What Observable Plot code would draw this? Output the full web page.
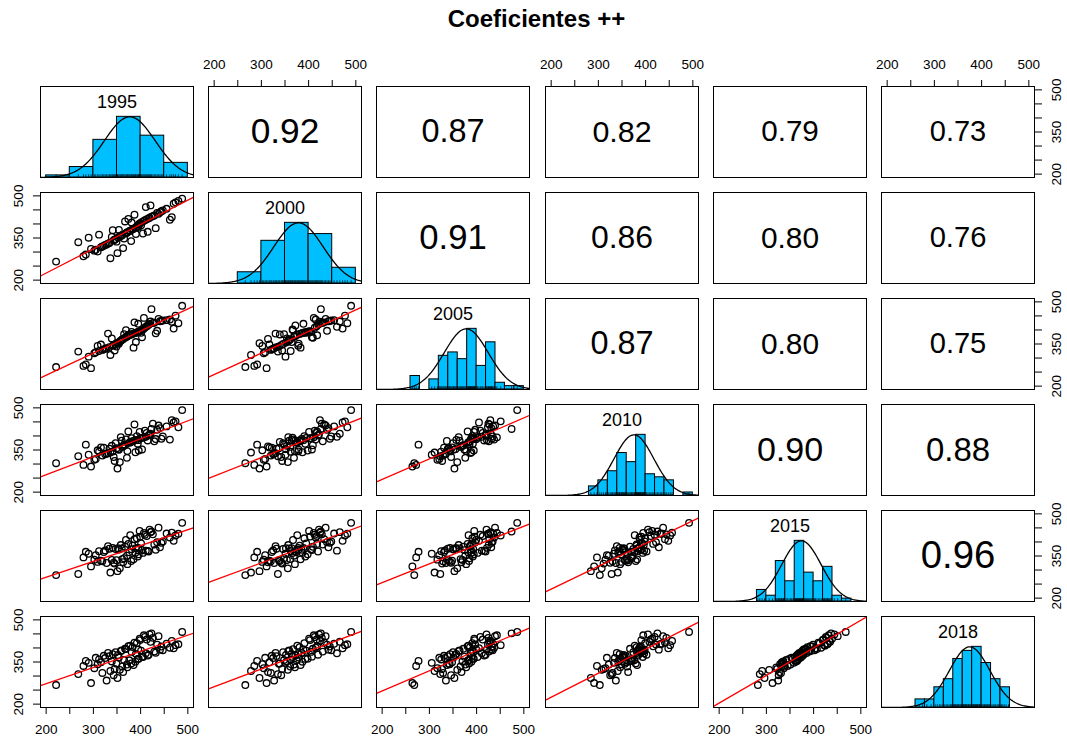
<!DOCTYPE html>
<html>
<head>
<meta charset="utf-8">
<script src="https://cdn.jsdelivr.net/npm/d3@7"></script>
<script src="https://cdn.jsdelivr.net/npm/@observablehq/plot@0.6"></script>
<style>
  html, body { margin: 0; padding: 0; background: #fff; }
  #chart { position: relative; width: 1067px; height: 742px; font-family: "Liberation Sans", Arial, Helvetica, sans-serif; }
  #title { position: absolute; left: 3px; top: 5px; width: 1067px; text-align: center; font-weight: bold; font-size: 24px; color: #000; }
  .cell { position: absolute; }
</style>
</head>
<body>
<div id="chart"><div id="title">Coeficientes ++</div></div>
<script>
// Variables (one per year) and their observations
const years = ["1995", "2000", "2005", "2010", "2015", "2018"];

const y1995 = [221,295,328,351,343,268,319,363,336,356, 345,302,372,361,279,385,371,309,349,380,
               290,316,389,339,284,376,365,312,394,396, 325,305,354,405,403,334,322,415,352,417,
               341,390,411,331,432,347,381,429,358,401, 360,447,441,395,369,367,470,462,383,444,
               374,378,474,435,480,455,392,387,421,466, 399,413,398,426,409,438,407,419,423,488];
const y2000 = [266,311,327,296,342,335,320,314,278,356, 344,305,371,361,285,383,369,302,337,339,
               351,317,387,354,291,374,348,362,393,398, 325,308,379,366,407,332,322,372,352,420,
               378,364,460,330,385,346,405,430,357,395, 359,448,442,389,367,409,472,415,381,445,
               418,376,477,439,482,454,391,433,466,424, 403,417,401,428,413,436,411,422,426,490];
const y2005 = [268,264,335,353,346,323,329,368,311,359, 327,317,378,366,272,337,376,343,341,384,
               305,348,389,370,277,382,385,325,392,394, 333,321,351,402,374,339,331,416,355,419,
               344,357,411,387,388,350,393,426,362,390, 364,434,431,422,399,372,405,437,386,432,
               381,383,451,397,424,435,391,427,430,429, 396,413,395,425,408,439,443,421,474,486];
const y2010 = [303,291,337,284,325,328,330,363,341,307, 311,315,346,361,297,382,322,349,356,379,
               333,359,342,365,369,376,370,344,372,348, 335,318,351,394,352,355,358,384,353,402,
               345,386,397,339,389,374,392,381,396,393, 383,398,428,385,388,367,448,387,381,390,
               416,377,452,422,431,434,399,441,408,456, 391,411,414,444,419,437,395,405,425,492];
const y2015 = [282,313,325,296,326,286,331,328,291,306, 323,337,321,339,345,338,351,329,335,332,
               358,333,362,336,365,363,342,367,348,356, 370,353,373,361,371,376,364,368,378,366,
               379,378,369,385,372,375,374,391,389,395, 377,402,381,379,407,383,404,416,387,397,
               393,424,423,399,429,430,413,410,435,433, 419,421,439,427,426,451,432,444,437,468];
const y2018 = [268,275,284,293,303,307,311,314,318,322, 325,328,331,334,336,339,341,342,344,345,
               347,349,351,352,354,356,357,359,361,362, 364,365,366,368,369,371,372,373,375,376,
               378,379,381,382,383,385,386,387,389,390, 391,392,394,395,396,397,399,401,403,405,
               406,408,410,412,413,415,417,419,422,425, 428,430,433,436,439,442,445,448,452,457];

// Pearson coefficients of the upper panels, row by row
const correlations = [0.92, 0.87, 0.82, 0.79, 0.73,
                      0.91, 0.86, 0.80, 0.76,
                      0.87, 0.80, 0.75,
                      0.90, 0.88,
                      0.96];

// Histogram class widths per variable
const binWidths = [50, 50, 20, 20, 20, 20];

// Axis ticks and the ones that carry a label
const axisTicks = [200, 250, 300, 350, 400, 450, 500];
const xTickLabels = [200, 300, 400, 500];
const yTickLabels = [200, 350, 500];

const series = [y1995, y2000, y2005, y2010, y2015, y2018];
const n = years.length;
const limits = [188, 512];

// panel geometry
const W = 153, H = 91, M = 40;
const colLeft = j => 40 + j * 168.2;
const rowTop = i => 86 + i * 106;

const corrIndex = {};
{
  let k = 0;
  for (let i = 0; i < n; i++) for (let j = i + 1; j < n; j++) corrIndex[i + "," + j] = k++;
}
const corrFontSize = r => 29 + 175 * Math.max(0, r - 0.73) ** 2;

// histogram with right-closed classes
function histogram(values, bw) {
  const lo = Math.floor(d3.min(values) / bw) * bw;
  const hi = Math.ceil(d3.max(values) / bw) * bw;
  const bins = d3.range(lo, hi, bw).map((x0, idx) => ({
    x0, x1: x0 + bw,
    count: values.filter(v => (idx === 0 ? v >= x0 : v > x0) && v <= x0 + bw).length
  }));
  const max = d3.max(bins, b => b.count);
  bins.forEach(b => b.h = b.count / max);
  return bins;
}

function leastSquares(xs, ys) {
  const mx = d3.mean(xs), my = d3.mean(ys);
  const sxy = d3.sum(xs, (x, k) => (x - mx) * (ys[k] - my));
  const sxx = d3.sum(xs, x => (x - mx) ** 2);
  const b = sxy / sxx;
  return {a: my - b * mx, b};
}

function axes(i, j) {
  const marks = [];
  const fmtX = d => xTickLabels.includes(d) ? String(d) : "";
  const fmtY = d => yTickLabels.includes(d) ? String(d) : "";
  const common = {ticks: axisTicks, tickSize: 7, tickPadding: 15, lineAnchor: "middle", label: null, stroke: "#000", fill: "#000"};
  if (i === n - 1 && j % 2 === 0) marks.push(Plot.axisX({...common, anchor: "bottom", tickFormat: fmtX}));
  if (i === 0 && j % 2 === 1) marks.push(Plot.axisX({...common, anchor: "top", tickFormat: fmtX}));
  if (j === 0 && i % 2 === 1) marks.push(Plot.axisY({...common, anchor: "left", tickRotate: -90, textAnchor: "middle", tickFormat: fmtY}));
  if (j === n - 1 && i % 2 === 0) marks.push(Plot.axisY({...common, anchor: "right", tickRotate: -90, textAnchor: "middle", tickFormat: fmtY}));
  return marks;
}

function cell(i, j) {
  const marks = [];
  let yDomain = limits;
  if (i > j) {
    // scatter of row variable against column variable, with least-squares line
    const xs = series[j], ys = series[i];
    const pts = xs.map((x, k) => ({x, y: ys[k]}));
    const fit = leastSquares(xs, ys);
    marks.push(Plot.dot(pts, {x: "x", y: "y", r: 3.3, stroke: "#000", strokeWidth: 1.3, fill: "none"}));
    marks.push(Plot.line(limits.map(x => ({x, y: fit.a + fit.b * x})),
      {x: "x", y: "y", stroke: "#ff0000", strokeWidth: 1.3, clip: true}));
  } else if (i === j) {
    // histogram scaled to its tallest class, normal curve, rug and name
    yDomain = [0, 1.5];
    const v = series[i];
    const bins = histogram(v, binWidths[i]);
    const m = d3.mean(v), s = d3.deviation(v);
    const curve = d3.range(limits[0], limits[1] + 1, 2).map(x => ({x, y: Math.exp(-((x - m) ** 2) / (2 * s * s))}));
    marks.push(Plot.rect(bins, {x1: "x0", x2: "x1", y1: 0, y2: "h", fill: "#00BFFF", stroke: "#000", strokeWidth: 1}));
    marks.push(Plot.ruleX(v, {x: d => d, y1: 0, y2: 0.045, stroke: "#000", strokeWidth: 0.7}));
    marks.push(Plot.line(curve, {x: "x", y: "y", stroke: "#000", strokeWidth: 1.3, clip: true}));
    marks.push(Plot.text([years[i]], {text: d => d, frameAnchor: "top", lineAnchor: "middle", dy: 15.5, fontSize: 18, fill: "#000"}));
  } else {
    const r = correlations[corrIndex[i + "," + j]];
    marks.push(Plot.text([r], {text: d => d.toFixed(2), frameAnchor: "middle", lineAnchor: "middle", fontSize: corrFontSize(r), fill: "#000"}));
  }
  marks.push(Plot.frame({stroke: "#000", strokeWidth: 1}));
  marks.push(...axes(i, j));
  return Plot.plot({
    width: W + 2 * M,
    height: H + 2 * M,
    margin: M,
    x: {domain: limits, axis: null},
    y: {domain: yDomain, axis: null},
    style: {
      background: "transparent",
      overflow: "visible",
      maxWidth: "none",
      fontFamily: "'Liberation Sans', Arial, Helvetica, sans-serif",
      fontSize: "13.5px",
      color: "#000"
    },
    marks
  });
}

const chart = document.getElementById("chart");
for (let i = 0; i < n; i++) {
  for (let j = 0; j < n; j++) {
    const div = document.createElement("div");
    div.className = "cell";
    div.style.left = (colLeft(j) - M) + "px";
    div.style.top = (rowTop(i) - M) + "px";
    div.style.width = (W + 2 * M) + "px";
    div.appendChild(cell(i, j));
    chart.appendChild(div);
  }
}
</script>
</body>
</html>
